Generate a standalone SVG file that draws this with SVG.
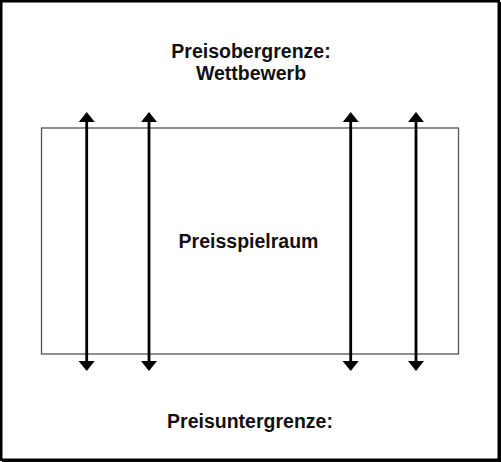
<svg xmlns="http://www.w3.org/2000/svg" width="501" height="462" viewBox="0 0 501 462">
<style>
.t{font-family:"Liberation Sans",Arial,sans-serif;font-weight:bold;font-size:19.5px;fill:#111;text-anchor:middle}
.c{stroke:#000;stroke-width:2.8;fill:none}
</style>
<defs>
<marker id="ah" viewBox="0 0 10 16" refX="1" refY="8" markerWidth="10" markerHeight="16" markerUnits="userSpaceOnUse" orient="auto-start-reverse">
<path d="M0,0 L10,8 L0,16 Z" fill="#000"/>
</marker>
</defs>
<rect x="0" y="0" width="501" height="462" fill="#fff"/>
<rect x="1.25" y="1.25" width="497.5" height="458.5" fill="none" stroke="#000" stroke-width="2.5"/>
<rect x="499" y="2" width="2" height="460" fill="#000"/>
<rect x="2" y="460" width="499" height="2" fill="#000"/>
<g id="label-top">
<text class="t" x="251" y="58">Preisobergrenze:</text>
<text class="t" x="251" y="80">Wettbewerb</text>
</g>
<g id="range">
<rect x="41.5" y="128" width="417" height="226" fill="none" stroke="#555" stroke-width="1.3"/>
<text class="t" x="248.5" y="248">Preisspielraum</text>
</g>
<g id="label-bottom">
<text class="t" x="250" y="428">Preisuntergrenze:</text>
</g>
<g id="connectors">
<line class="c" x1="86.7" y1="121" x2="86.7" y2="362" marker-start="url(#ah)" marker-end="url(#ah)"/>
<line class="c" x1="149" y1="121" x2="149" y2="362" marker-start="url(#ah)" marker-end="url(#ah)"/>
<line class="c" x1="350.7" y1="121" x2="350.7" y2="362" marker-start="url(#ah)" marker-end="url(#ah)"/>
<line class="c" x1="416" y1="121" x2="416" y2="362" marker-start="url(#ah)" marker-end="url(#ah)"/>
</g>
</svg>
